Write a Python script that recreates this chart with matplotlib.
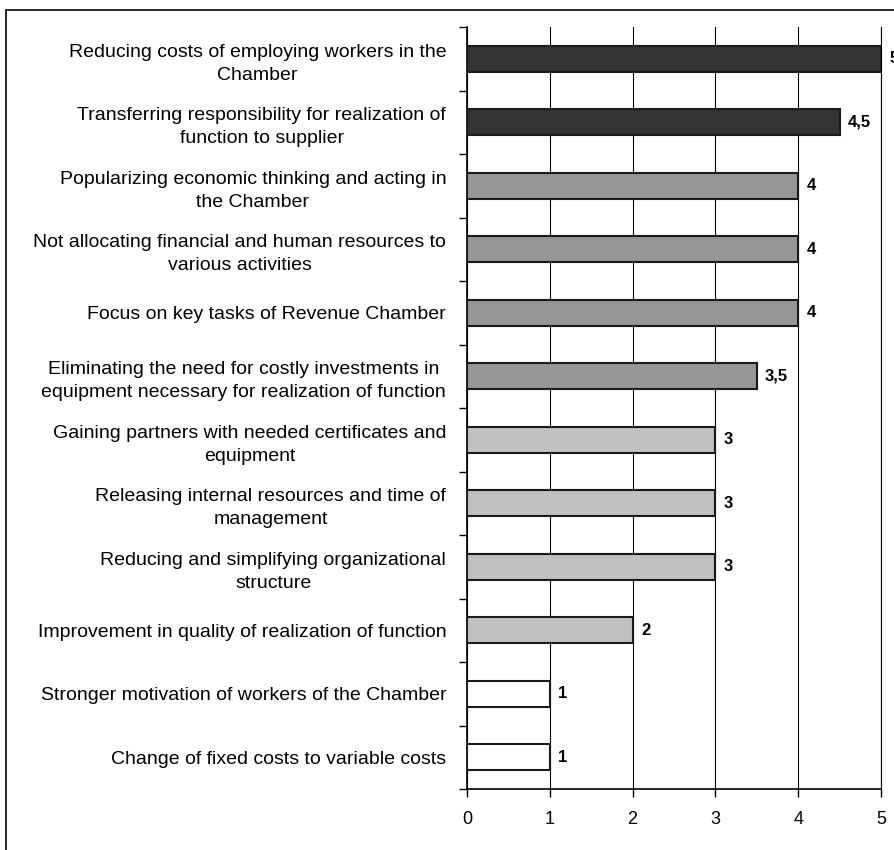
import matplotlib
matplotlib.use('Agg')
import matplotlib.pyplot as plt
from matplotlib.patches import Rectangle

# categories listed bottom to top
labels = [
    'Change of fixed costs to variable costs',
    'Stronger motivation of workers of the Chamber',
    'Improvement in quality of realization of function',
    'Reducing and simplifying organizational\nstructure',
    'Releasing internal resources and time of\nmanagement',
    'Gaining partners with needed certificates and\nequipment',
    'Eliminating the need for costly investments in\nequipment necessary for realization of function',
    'Focus on key tasks of Revenue Chamber',
    'Not allocating financial and human resources to\nvarious activities',
    'Popularizing economic thinking and acting in\nthe Chamber',
    'Transferring responsibility for realization of\nfunction to supplier',
    'Reducing costs of employing workers in the\nChamber',
]
values = [1, 1, 2, 3, 3, 3, 3.5, 4, 4, 4, 4.5, 5]
colors = ['#ffffff', '#ffffff', '#c0c0c0', '#c0c0c0', '#c0c0c0', '#c0c0c0',
          '#969696', '#969696', '#969696', '#969696', '#333333', '#333333']

plt.rcParams['font.family'] = ['Liberation Sans', 'DejaVu Sans']

fig = plt.figure(figsize=(8.95, 8.5), dpi=100)
ax = fig.add_axes([467 / 895, 1 - 789 / 850, (881 - 467) / 895, (789 - 27) / 850])

# outer frame of the picture
fig.patches.append(Rectangle((6 / 895, -0.1), 1.2, 1 - 10 / 850 + 0.1,
                             transform=fig.transFigure, fill=False,
                             edgecolor='black', linewidth=1.2))

ypos = list(range(len(labels)))
ax.barh(ypos, values, height=0.41, color=colors, edgecolor='#1a1a1a',
        linewidth=1.5, zorder=3)

for y, v in zip(ypos, values):
    txt = ('%g' % v).replace('.', ',')
    ax.text(v + 0.1, y, txt, va='center', ha='left', fontsize=12,
            fontweight='bold', zorder=4, clip_on=False)

ax.set_xlim(0, 5)
ax.set_ylim(-0.5, len(labels) - 0.5)
ax.set_xticks([0, 1, 2, 3, 4, 5])
ax.xaxis.grid(True, color='black', linewidth=0.8, zorder=0)
ax.set_axisbelow(True)

ax.set_yticks(ypos)
ax.set_yticklabels(labels, fontsize=14, multialignment='center', linespacing=1.45)
ax.set_yticks([i - 0.5 for i in range(len(labels) + 1)], minor=True)
ax.tick_params(axis='y', which='major', length=0, pad=15)
ax.tick_params(axis='y', which='minor', length=6, width=1, direction='out')
ax.tick_params(axis='x', length=6, width=1, labelsize=13, pad=10)

ax.spines['top'].set_visible(False)
ax.spines['right'].set_linewidth(0.8)
for s in ('left', 'bottom'):
    ax.spines[s].set_linewidth(1.2)

plt.savefig('out.png', dpi=100)
